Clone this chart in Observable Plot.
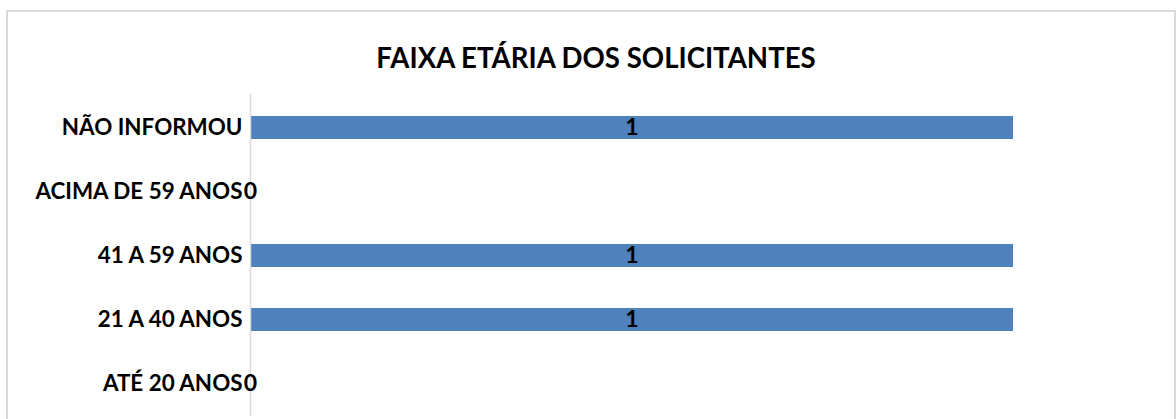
<!DOCTYPE html>
<html>
<head>
<meta charset="utf-8">
<script src="https://cdn.jsdelivr.net/npm/d3@7"></script>
<script src="https://cdn.jsdelivr.net/npm/@observablehq/plot@0.6"></script>
<style>
  html, body { margin: 0; padding: 0; background: #fff; }
  #wrap { position: relative; width: 1176px; height: 419px; overflow: hidden; background: #fff; }
  #border { position: absolute; left: 6px; top: 10px; width: 1166px; height: 430px; border: 2px solid #d9d9d9; box-sizing: content-box; }
  #title { position: absolute; left: 0; top: 44px; width: 1192px; text-align: center; font-family: Lato, "Open Sans", sans-serif; font-weight: 700; font-size: 27.6px; line-height: 27.6px; color: #000; }
  #chart { position: absolute; left: 0; top: 80px; }
  #chart svg { overflow: visible; }
</style>
</head>
<body>
<div id="wrap">
  <div id="border"></div>
  <div id="title">FAIXA ETÁRIA DOS SOLICITANTES</div>
  <div id="chart"></div>
</div>
<script>
const categories = ["NÃO INFORMOU", "ACIMA DE 59 ANOS", "41 A 59 ANOS", "21 A 40 ANOS", "ATÉ 20 ANOS"];
const values = [1, 0, 1, 1, 0];

const data = categories.map((c, i) => ({category: c, value: values[i]}));

const plot = Plot.plot({
  width: 1176,
  height: 339,
  marginLeft: 250,
  marginRight: 163,
  marginTop: 14,
  marginBottom: 3,
  style: {fontFamily: "Lato, 'Open Sans', sans-serif", fontWeight: 700, fontSize: "22.4px", color: "#000", background: "transparent"},
  x: {domain: [0, 1], axis: null},
  y: {domain: categories, paddingInner: 0.642, paddingOuter: 0.321, label: null},
  marks: [
    Plot.barX(data, {x: "value", y: "category", fill: "#4f81bd"}),
    Plot.ruleX([0], {stroke: "#d9d9d9", strokeWidth: 1.5}),
    Plot.axisY({tickSize: 0, tickPadding: 8, label: null, fontSize: 22.4, fontWeight: 700, fill: "#000"}),
    Plot.text(data, {x: d => d.value / 2, y: "category", text: d => String(d.value), fill: "#000", fontSize: 23, fontWeight: 700})
  ]
});
document.getElementById("chart").appendChild(plot);
</script>
</body>
</html>
